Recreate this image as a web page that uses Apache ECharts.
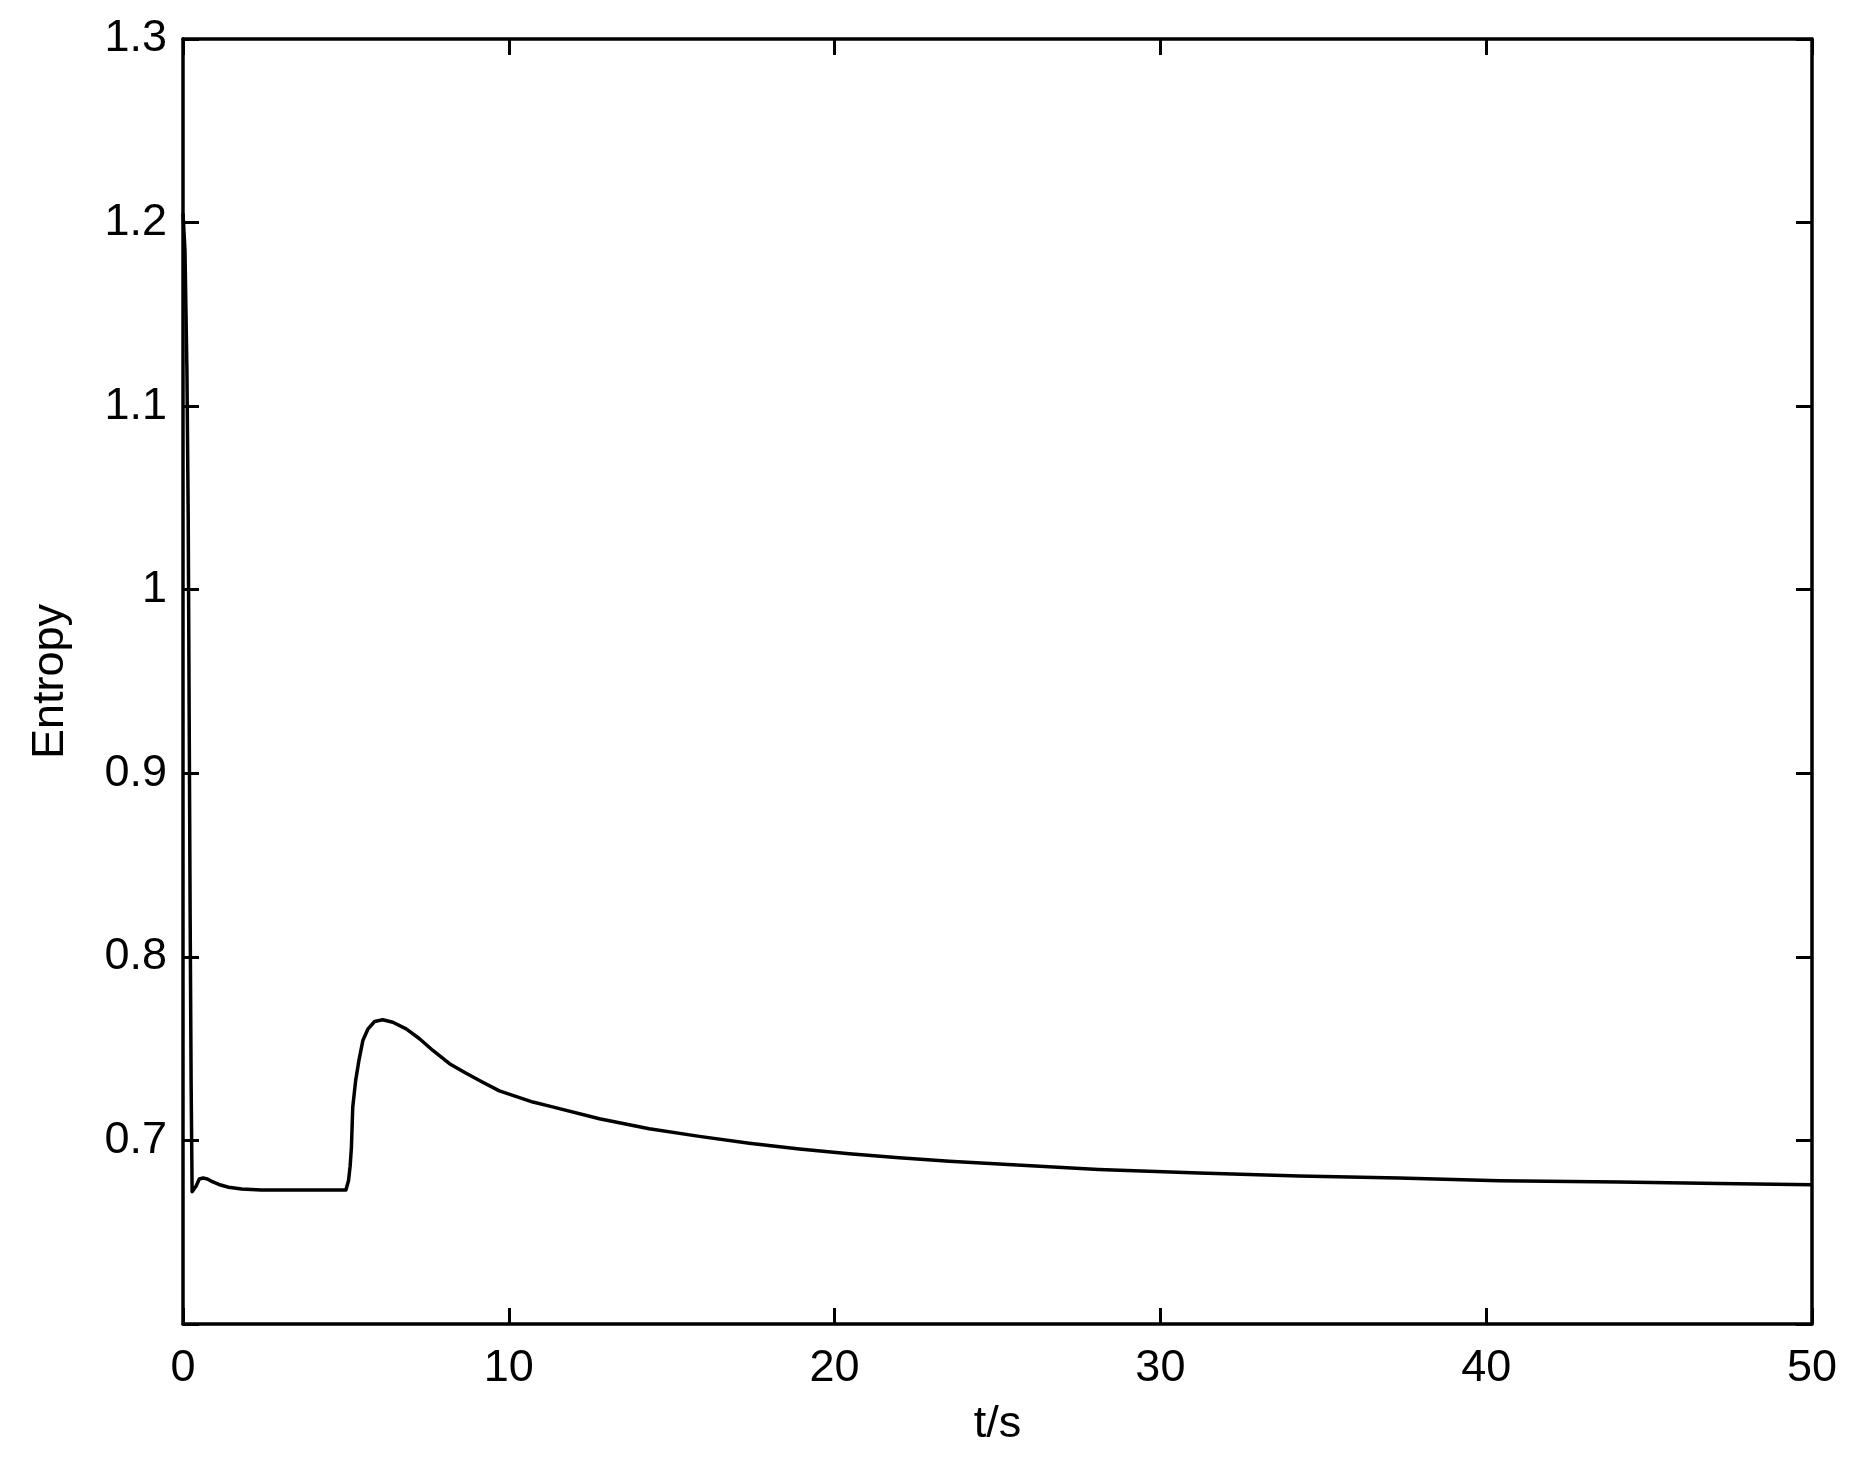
<!DOCTYPE html>
<html>
<head>
<meta charset="utf-8">
<script src="https://cdn.jsdelivr.net/npm/echarts@6/dist/echarts.min.js"></script>
<style>
html,body{margin:0;padding:0;background:#fff;}
#chart{width:1856px;height:1465px;}
</style>
</head>
<body>
<div id="chart"></div>
<script>
var tValues = [0, 0.06, 0.12, 0.16, 0.19, 0.22, 0.25, 0.28, 0.33, 0.4, 0.5, 0.62, 0.75, 0.9, 1.1, 1.4, 1.8, 2.4, 3.5, 5.0,
  5.08, 5.13, 5.17, 5.21, 5.30, 5.40, 5.52, 5.68, 5.88, 6.13, 6.44, 6.85, 7.26, 7.67, 8.18, 8.69, 9.2, 9.71,
  10.74, 11.25, 12.78, 14.31, 15.85, 17.38, 18.92, 20.45, 21.98, 23.52, 25.05, 28.1, 31.19, 34.25, 37.32, 40.39, 44.07, 47.13, 50];
var entropyValues = [1.205, 1.185, 1.12, 1.04, 0.93, 0.82, 0.73, 0.672, 0.671, 0.675, 0.679, 0.6795, 0.679, 0.6775, 0.676, 0.6745, 0.6735, 0.673, 0.673, 0.673,
  0.678, 0.686, 0.6964, 0.7181, 0.7327, 0.7436, 0.7544, 0.7608, 0.7648, 0.7657, 0.7644, 0.7608, 0.7554, 0.749, 0.7418, 0.7366, 0.7317, 0.727,
  0.7209, 0.7187, 0.7118, 0.7064, 0.7022, 0.6985, 0.6953, 0.6927, 0.6906, 0.6887, 0.6872, 0.6842, 0.6822, 0.6806, 0.6795, 0.6781, 0.6773, 0.6766, 0.6758];
var xTicks = {min: 0, max: 50, interval: 10};
var yTicks = {min: 0.6, max: 1.3, interval: 0.1, firstLabel: 0.7};
var xName = 't/s';
var yName = 'Entropy';

var FONT = '"Liberation Sans", Arial, Helvetica, sans-serif';
var lineStyle = {color: '#000', width: 3.5};
function axisBase(pos, showLabel, isY) {
  return {
    type: 'value',
    position: pos,
    min: isY ? yTicks.min : xTicks.min,
    max: isY ? yTicks.max : xTicks.max,
    interval: isY ? yTicks.interval : xTicks.interval,
    axisLine: {show: true, onZero: false, lineStyle: lineStyle},
    axisTick: {show: true, inside: true, length: 16, lineStyle: {color: '#000', width: 3}},
    splitLine: {show: false},
    axisLabel: {
      show: showLabel,
      color: '#000',
      fontSize: 45,
      fontFamily: FONT,
      margin: isY ? 16 : 22,
      formatter: function (v) {
        if (isY) {
          if (v < yTicks.firstLabel - 1e-6) return '';
          return String(Math.round(v * 10) / 10);
        }
        return String(Math.round(v));
      }
    }
  };
}
var xBottom = axisBase('bottom', true, false);
xBottom.name = xName;
xBottom.nameLocation = 'middle';
xBottom.nameGap = 78;
xBottom.nameTextStyle = {color: '#000', fontSize: 45, fontFamily: FONT};
var xTop = axisBase('top', false, false);
var yLeft = axisBase('left', true, true);
yLeft.name = yName;
yLeft.nameLocation = 'middle';
yLeft.nameGap = 110;
yLeft.nameTextStyle = {color: '#000', fontSize: 45, fontFamily: FONT};
var yRight = axisBase('right', false, true);

var data = tValues.map(function (t, i) { return [t, entropyValues[i]]; });

var chart = echarts.init(document.getElementById('chart'), null, {renderer: 'canvas'});
chart.setOption({
  animation: false,
  backgroundColor: '#fff',
  grid: {left: 183, right: 44, top: 39, bottom: 141, containLabel: false},
  xAxis: [xBottom, xTop],
  yAxis: [yLeft, yRight],
  series: [{
    type: 'line',
    xAxisIndex: 0,
    yAxisIndex: 0,
    data: data,
    showSymbol: false,
    smooth: false,
    lineStyle: {color: '#000', width: 3.5, join: 'round'},
    clip: true
  }]
});
</script>
</body>
</html>
